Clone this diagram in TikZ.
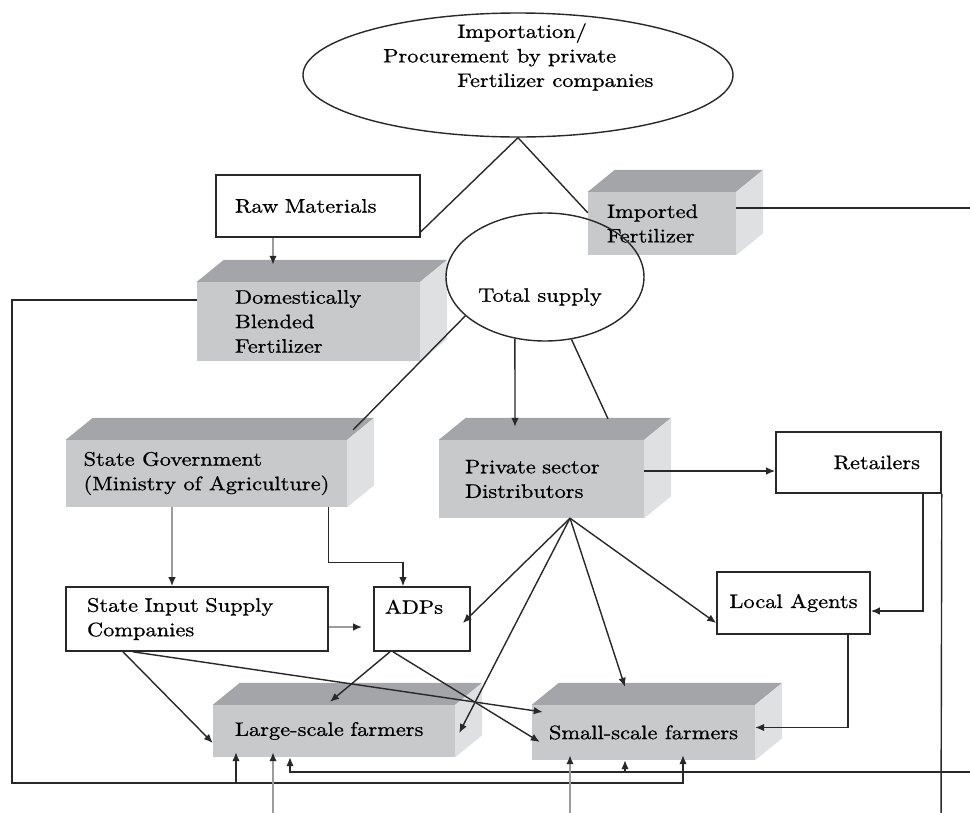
\documentclass[tikz,border=0pt]{standalone}
\usepackage{fontspec}
\setmainfont{lmroman10-regular.otf}[FakeStretch=1.15,FakeBold=0.8]
\usetikzlibrary{arrows.meta,shapes.geometric}
\definecolor{facegray}{RGB}{200,201,203}
\definecolor{topgray}{RGB}{164,165,169}
\definecolor{sidegray}{RGB}{223,224,226}
\definecolor{linegray}{RGB}{155,155,157}
\definecolor{inkgray}{RGB}{40,40,40}
\newcommand\dfont{\fontsize{19.5pt}{24.5pt}\selectfont}
\newcommand\cubefaces[1]{%
  \fill[topgray] (#1.north west) -- ++(27,-22) -- ([shift={(27,-22)}]#1.north east) -- (#1.north east) -- cycle;
  \fill[sidegray] (#1.north east) -- ++(27,-22) -- ([shift={(27,-22)}]#1.south east) -- (#1.south east) -- cycle;}
\begin{document}
\begin{tikzpicture}[x=1pt, y=-1pt, font=\dfont,
  wbox/.style={draw=inkgray, line width=1.6pt, fill=white, inner ysep=0pt, align=left},
  gbox/.style={fill=facegray, inner ysep=0pt, align=left},
  ln/.style={draw=inkgray, line width=1.4pt},
  gln/.style={draw=linegray, line width=1.8pt},
  arr/.style={-{Latex[length=9pt,width=7.5pt,color=inkgray]}},
  into/.style={shorten >=-5pt}]
  \useasboundingbox (0,0) rectangle (970,812);
  \node[ellipse, draw=inkgray, line width=1.4pt, minimum width=430pt, minimum height=124pt] (src) at (518,75) {};
  \node[anchor=west, align=left, inner sep=0pt] (srctxt) at (383,57) {\hspace*{74pt}Importation/\\Procurement by private\\\hspace*{74pt}Fertilizer companies};
  \node[wbox, text width=166pt, inner xsep=19pt, minimum height=62pt] (raw) at (318,206) {Raw Materials};
  \node[gbox, text width=110pt, inner xsep=19pt, minimum height=63pt] (imp) at (662,223.5) {Imported\\Fertilizer};
  \cubefaces{imp}
  \node[gbox, text width=147pt, inner xsep=38pt, minimum height=79pt] (dom) at (308.5,321.5) {Domestically\\Blended\\Fertilizer};
  \cubefaces{dom}
  \node[ellipse, draw=inkgray, line width=1.4pt, minimum width=198pt, minimum height=128pt] (supply) at (545,277) {};
  \node[inner sep=0pt] (supplytxt) at (540,297) {Total supply};
  \node[gbox, minimum width=281pt, minimum height=67pt] (gov) at (206.5,473.5) {State Government\\(Ministry of Agriculture)};
  \cubefaces{gov}
  \node[gbox, text width=153pt, inner xsep=26pt, minimum height=78pt] (pvt) at (541.5,479) {Private sector\\Distributors};
  \cubefaces{pvt}
  \node[wbox, align=right, text width=123pt, inner xsep=21pt, minimum height=61pt] (ret) at (858.5,462.5) {Retailers};
  \node[wbox, text width=220pt, inner xsep=21pt, minimum height=64pt] (sisc) at (197,619) {State Input Supply\\Companies};
  \node[wbox, text width=74pt, inner xsep=11pt, minimum height=64pt] (adp) at (422,619) {ADPs\\~};
  \node[wbox, minimum width=153pt, minimum height=62pt] (loc) at (793.5,603) {Local Agents};
  \node[gbox, text width=198pt, inner xsep=22pt, minimum height=52pt] (large) at (334,731) {Large-scale farmers};
  \cubefaces{large}
  \node[gbox, minimum width=223pt, minimum height=55pt] (small) at (643.5,732.5) {Small-scale farmers};
  \cubefaces{small}
  \coordinate (offNE) at (990,208);
  \coordinate (busA) at (290,772);
  \coordinate (tapS) at (625,772);
  \coordinate (cornerW) at (12,783);
  \coordinate (busB) at (683,783);
  \coordinate (tapL) at (236,783);
  \coordinate (offL) at (273,830);
  \coordinate (offS) at (570,830);
  \coordinate (offR) at (941,830);
  \coordinate (fan) at ([xshift=28.5pt]pvt.south);
  \draw[ln] (src.south) -- ([yshift=6pt]raw.south east);
  \draw[ln] (src.south) -- ([yshift=-21pt]imp.north west);
  \draw[ln,arr] ([yshift=15.5pt]imp.east) -- (offNE) |- (busA) -- (busA |- large.south);
  \draw[ln,arr] (tapS) -- (tapS |- small.south);
  \draw[ln,arr,into] ([yshift=21.5pt]dom.west) -| (cornerW) -- (busB) -- (busB |- small.south);
  \draw[ln,arr,into] (tapL) -- (tapL |- large.south);
  \draw[gln,arr,into] (offL) -- (offL |- large.south);
  \draw[gln,arr,into] (offS) -- (offS |- small.south);
  \draw[ln] (ret.south east) -- (offR);
  \draw[ln,arr] ([xshift=-19pt]ret.south east) |- ([yshift=-8pt]loc.east);
  \draw[ln,arr] ([xshift=54.5pt]loc.south) |- ([yshift=5pt]small.east);
  \draw[ln,arr] ([yshift=8pt]pvt.east) -- ([yshift=-8.5pt]ret.west);
  \draw[ln,arr] (supply.244) -- ([xshift=-26.5pt,yshift=13pt]pvt.north);
  \draw[ln] (supply.293) -- ([xshift=66.5pt,yshift=21pt]pvt.north);
  \draw[ln] (supply.206) -- ([xshift=6pt,yshift=10pt]gov.north east);
  \draw[gln,arr] ([xshift=-45pt]raw.south) -- ([xshift=-35.5pt,yshift=17pt]dom.north);
  \draw[gln,arr] ([xshift=-34.5pt]gov.south) -- ([xshift=-25pt]sisc.north);
  \draw[ln,arr] ([xshift=-19pt]gov.south east) -- ++(0,55) -| ([xshift=-19pt]adp.north);
  \draw[gln,arr] ([yshift=-8pt]sisc.east) -- ([xshift=-11pt,yshift=-8pt]adp.west);
  \draw[ln,arr] ([xshift=-74pt]sisc.south) -- ([yshift=-12pt]large.west);
  \draw[ln,arr] ([xshift=-64pt]sisc.south) -- ([xshift=11pt,yshift=20.5pt]small.west);
  \draw[ln,arr] ([xshift=-32pt]adp.south) -- ([xshift=-4pt,yshift=3pt]large.north);
  \draw[ln,arr] ([xshift=-29pt]adp.south) -- ([xshift=8pt,yshift=-9.5pt]small.west);
  \draw[ln,arr] (fan) -- ([xshift=-8pt,yshift=-4pt]adp.east);
  \draw[ln,arr] (fan) -- ([xshift=4pt,yshift=-2pt]large.east);
  \draw[ln,arr] (fan) -- ([xshift=-18.5pt,yshift=18pt]small.north);
  \draw[ln,arr] (fan) -- ([yshift=-20pt]loc.west);
\end{tikzpicture}
\end{document}
